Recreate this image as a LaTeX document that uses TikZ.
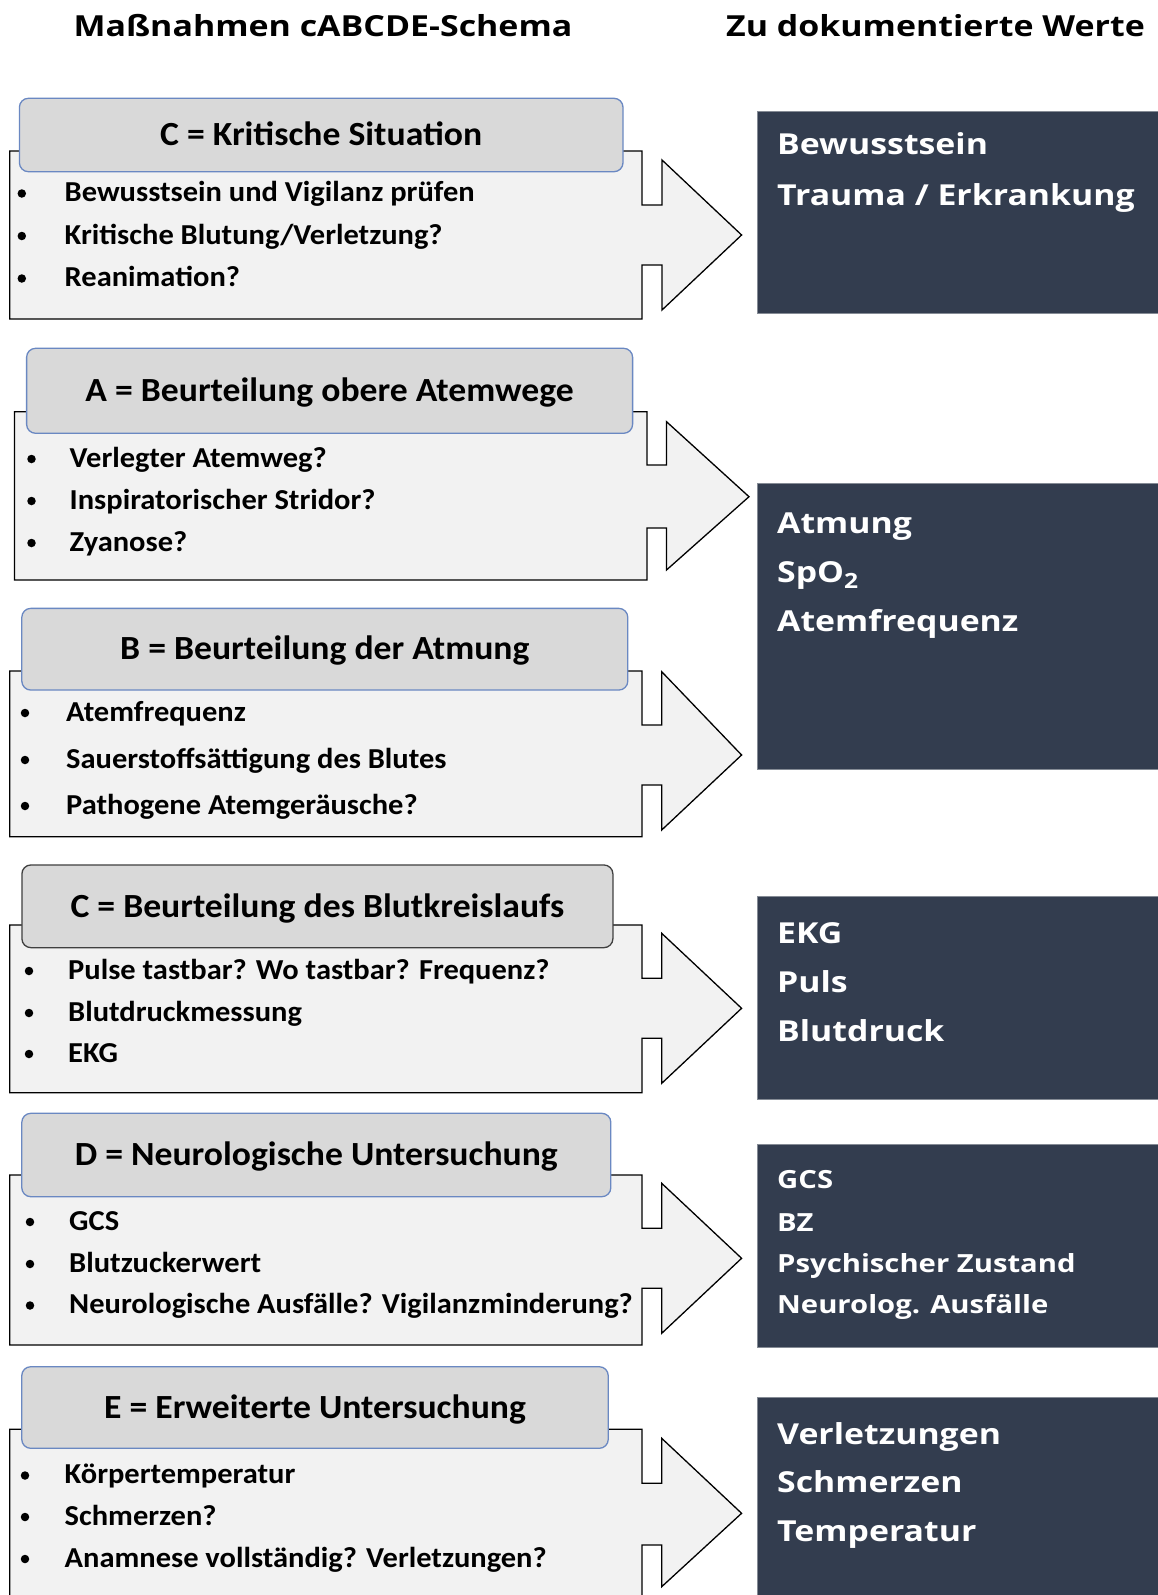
\documentclass[tikz,border=0pt]{standalone}
\usepackage{fontspec}
\setmainfont{Carlito}[FakeStretch=1.055]
\newfontfamily\valfont{Open Sans}[FakeStretch=1.17]
\definecolor{bodygray}{HTML}{F2F2F2}
\definecolor{titlegray}{HTML}{D9D9D9}
\definecolor{titleblue}{HTML}{6A88C2}
\definecolor{navy}{HTML}{333D4F}
\begin{document}
\begin{tikzpicture}[x=1pt,y=-1pt,
  body/.style={fill=bodygray, draw=black, line width=1.3pt, line join=miter},
  titlebox/.style={draw=titleblue, fill=titlegray, line width=1.3pt, rounded corners=9pt,
    inner sep=0pt, font=\bfseries\fontsize{33.8}{38}\selectfont, text height=21.4pt, text depth=0pt},
  itemtxt/.style={anchor=west, inner sep=0pt, font=\bfseries\fontsize{28.9}{32}\selectfont,
    text height=18.3pt, text depth=0pt},
  dot/.style={circle, fill=black, inner sep=0pt, minimum size=8.5pt},
  navybox/.style={fill=navy, draw=navy!60!white, line width=0.8pt, anchor=north west, inner sep=0pt},
  valtxt/.style={anchor=west, inner sep=0pt, text=white, font=\valfont\bfseries\fontsize{28.9}{32}\selectfont,
    text height=20.6pt, text depth=0pt},
  smallval/.style={valtxt, font=\valfont\bfseries\fontsize{25}{28}\selectfont, text height=17.8pt},
  headtxt/.style={anchor=center, inner sep=0pt, font=\valfont\bfseries\fontsize{29}{34}\selectfont}
]
\useasboundingbox (0,0) rectangle (1158,1595);
\clip (0,0) rectangle (1158,1595);

% column headings
\node[headtxt] (h1) at (323,25.4) {Maßnahmen cABCDE-Schema};
\node[headtxt] (h2) at (935.5,25.4) {Zu dokumentierte Werte};

% ---- c: critical situation ----
\draw[body] (9.7,151) -- (642,151) -- (642,205) -- (662,205) -- (662,160) -- (741.6,235)
  -- (662,310) -- (662,265) -- (642,265) -- (642,319) -- (9.7,319) -- cycle;
\node[titlebox, minimum width=603.6pt, minimum height=73.4pt] (t1) at (321.2,135) {C = Kritische Situation};
\node[dot] (d11) at (21.8,193.5) {};
\node[itemtxt] (i11) at (64.5,192.5) {Bewusstsein und Vigilanz prüfen};
\node[dot] (d12) at (21.8,236) {};
\node[itemtxt] (i12) at (64.5,235) {Kritische Blutung/Verletzung?};
\node[dot] (d13) at (21.8,278.5) {};
\node[itemtxt] (i13) at (64.5,277.5) {Reanimation?};

% ---- A: airway ----
\draw[body] (14.5,411.7) -- (647,411.7) -- (647,465) -- (666.5,465) -- (666.5,421.7) -- (749,496.7)
  -- (666.5,570) -- (666.5,528) -- (647,528) -- (647,580) -- (14.5,580) -- cycle;
\node[titlebox, minimum width=606pt, minimum height=85pt] (t2) at (329.6,390.8) {A = Beurteilung obere Atemwege};
\node[dot] (d21) at (31.5,459) {};
\node[itemtxt] (i21) at (69.5,458) {Verlegter Atemweg?};
\node[dot] (d22) at (31.5,501) {};
\node[itemtxt] (i22) at (69.5,500) {Inspiratorischer Stridor?};
\node[dot] (d23) at (31.5,543) {};
\node[itemtxt] (i23) at (69.5,542) {Zyanose?};

% ---- B: breathing ----
\draw[body] (9.7,671) -- (642,671) -- (642,725) -- (661.7,725) -- (661.7,671.7) -- (741.6,755)
  -- (661.7,830) -- (661.7,785) -- (642,785) -- (642,836.7) -- (9.7,836.7) -- cycle;
\node[titlebox, minimum width=606pt, minimum height=81.7pt] (t3) at (324.8,649.2) {B = Beurteilung der Atmung};
\node[dot] (d31) at (25,713) {};
\node[itemtxt] (i31) at (66,712) {Atemfrequenz};
\node[dot] (d32) at (25,760) {};
\node[itemtxt] (i32) at (66,759) {Sauerstoffsättigung des Blutes};
\node[dot] (d33) at (25,806) {};
\node[itemtxt] (i33) at (66,805) {Pathogene Atemgeräusche?};

% ---- C: circulation ----
\draw[body] (9.7,925) -- (642,925) -- (642,978.3) -- (661.7,978.3) -- (661.7,933.3) -- (741.6,1008.3)
  -- (661.7,1083.3) -- (661.7,1038.3) -- (642,1038.3) -- (642,1092.7) -- (9.7,1092.7) -- cycle;
\node[titlebox, draw=black!75, minimum width=591pt, minimum height=82.7pt] (t4) at (317.4,906.3) {C = Beurteilung des Blutkreislaufs};
\node[dot] (d41) at (29,971) {};
\node[itemtxt] (i41) at (68,970) {Pulse tastbar? Wo tastbar? Frequenz?};
\node[dot] (d42) at (29,1013) {};
\node[itemtxt] (i42) at (68,1012) {Blutdruckmessung};
\node[dot] (d43) at (29,1054) {};
\node[itemtxt] (i43) at (68,1053) {EKG};

% ---- D: disability ----
\draw[body] (9.7,1175) -- (642,1175) -- (642,1228.3) -- (661.7,1228.3) -- (661.7,1183.3) -- (741.6,1258.3)
  -- (661.7,1333.3) -- (661.7,1288.3) -- (642,1288.3) -- (642,1345) -- (9.7,1345) -- cycle;
\node[titlebox, minimum width=589pt, minimum height=83.4pt] (t5) at (316.3,1155) {D = Neurologische Untersuchung};
\node[dot] (d51) at (30,1222) {};
\node[itemtxt] (i51) at (69,1221) {GCS};
\node[dot] (d52) at (30,1264) {};
\node[itemtxt] (i52) at (69,1263) {Blutzuckerwert};
\node[dot] (d53) at (30,1305.5) {};
\node[itemtxt] (i53) at (69,1304.5) {Neurologische Ausfälle? Vigilanzminderung?};

% ---- E: exposure ----
\draw[body] (9.7,1429.3) -- (642,1429.3) -- (642,1483.3) -- (661.7,1483.3) -- (661.7,1438.3) -- (741.6,1513.3)
  -- (661.7,1586.7) -- (661.7,1545) -- (642,1545) -- (642,1610) -- (9.7,1610) -- cycle;
\node[titlebox, minimum width=586.5pt, minimum height=81.6pt] (t6) at (315,1407.5) {E = Erweiterte Untersuchung};
\node[dot] (d61) at (25,1475.5) {};
\node[itemtxt] (i61) at (64.5,1474.5) {Körpertemperatur};
\node[dot] (d62) at (25,1517) {};
\node[itemtxt] (i62) at (64.5,1516) {Schmerzen?};
\node[dot] (d63) at (25,1559) {};
\node[itemtxt] (i63) at (64.5,1558) {Anamnese vollständig? Verletzungen?};

% ---- values to document ----
\node[navybox, minimum width=410pt, minimum height=202.3pt] (r1) at (756.7,110.7) {};
\node[valtxt] (v11) at (777,144.5) {Bewusstsein};
\node[valtxt] (v12) at (777,195.5) {Trauma / Erkrankung};

\node[navybox, minimum width=410pt, minimum height=286pt] (r2) at (756.7,483) {};
\node[valtxt] (v21) at (777,523) {Atmung};
\node[valtxt] (v22) at (777,572.5) {SpO{\raisebox{-0.2em}{\fontsize{21}{21}\selectfont 2}}};
\node[valtxt] (v23) at (777,621.5) {Atemfrequenz};

\node[navybox, minimum width=410pt, minimum height=203pt] (r3) at (756.7,895.5) {};
\node[valtxt] (v31) at (777,933.3) {EKG};
\node[valtxt] (v32) at (777,981.7) {Puls};
\node[valtxt] (v33) at (777,1030.7) {Blutdruck};

\node[navybox, minimum width=410pt, minimum height=203.5pt] (r4) at (756.7,1143.5) {};
\node[smallval] (v41) at (777,1180) {GCS};
\node[smallval] (v42) at (777,1223) {BZ};
\node[smallval] (v43) at (777,1264) {Psychischer Zustand};
\node[smallval] (v44) at (777,1305) {Neurolog. Ausfälle};

\node[navybox, minimum width=410pt, minimum height=220pt] (r5) at (756.7,1396.5) {};
\node[valtxt] (v51) at (777,1434) {Verletzungen};
\node[valtxt] (v52) at (777,1482.5) {Schmerzen};
\node[valtxt] (v53) at (777,1531.5) {Temperatur};
\end{tikzpicture}
\end{document}
